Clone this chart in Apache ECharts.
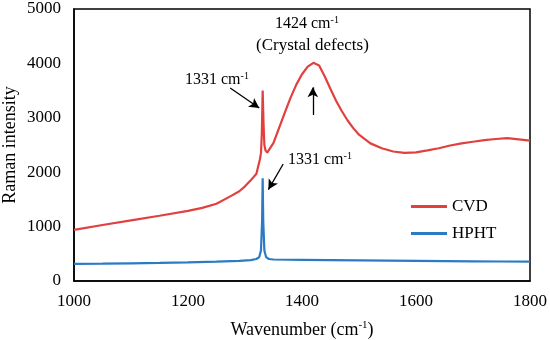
<!DOCTYPE html>
<html>
<head>
<meta charset="utf-8">
<script src="https://cdn.jsdelivr.net/npm/echarts@6/dist/echarts.min.js"></script>
<style>html,body{margin:0;padding:0;background:#fff;}#c{width:550px;height:340px;}</style>
</head>
<body>
<div id="c"></div>
<script>
var cvdWavenumber = [1000,1050,1100,1150,1200,1225,1250,1275,1290,1300,1310,1320,1326,1328,1329.5,1331,1332.5,1334,1336,1339,1342,1350,1360,1370,1380,1390,1400,1410,1420,1430,1440,1450,1460,1470,1480,1490,1500,1520,1540,1560,1580,1600,1620,1640,1660,1680,1700,1720,1740,1760,1780,1800];
var cvdIntensity  = [940,1030,1115,1200,1290,1345,1420,1560,1650,1740,1850,1970,2230,2350,2700,3500,2900,2500,2400,2360,2390,2540,2820,3100,3370,3610,3800,3940,4010,3960,3760,3530,3310,3120,2950,2810,2690,2530,2440,2380,2355,2365,2400,2440,2490,2530,2560,2590,2610,2625,2605,2580];
var hphtWavenumber = [1000,1050,1100,1150,1200,1250,1290,1310,1320,1325,1328,1330,1331,1332,1334,1337,1342,1350,1400,1450,1500,1550,1600,1650,1700,1750,1800];
var hphtIntensity  = [315,318,325,332,342,355,370,385,405,440,560,1100,1890,1100,560,440,405,395,390,385,380,375,370,366,362,358,355];
var seriesNames = ['CVD','HPHT'];
var xTicks = [1000,1200,1400,1600,1800];
var yTicks = [0,1000,2000,3000,4000,5000];

function pairs(xs, ys){ return xs.map(function(x,i){ return [x, ys[i]]; }); }

var FONT = 'Liberation Serif';
var chart = echarts.init(document.getElementById('c'));
var sup = {fontSize: 10, fontFamily: FONT, color: '#000', verticalAlign: 'top', lineHeight: 10};
var supL = {fontSize: 11, fontFamily: FONT, color: '#000', verticalAlign: 'top', lineHeight: 11};
var nrm = {fontSize: 16, fontFamily: FONT, color: '#000', lineHeight: 18};
var nrmL = {fontSize: 18, fontFamily: FONT, color: '#000', lineHeight: 20};
var colors = ['#E2403E', '#2B7BC4'];

chart.setOption({
  animation: false,
  backgroundColor: '#fff',
  grid: {left: 74, right: 20, top: 9, bottom: 59, containLabel: false, outerBoundsMode: 'none',
         show: true, borderColor: '#000', borderWidth: 1.5, backgroundColor: 'transparent'},
  xAxis: {
    type: 'value', min: xTicks[0], max: xTicks[xTicks.length-1], interval: 200,
    name: '{n|Wavenumber (cm}{s|-1}{n|)}', nameLocation: 'middle', nameGap: 39, nameMoveOverlap: false,
    nameTextStyle: {rich: {n: nrmL, s: supL}},
    axisLine: {show: true, lineStyle: {color: '#000', width: 1.5}},
    axisTick: {show: false}, splitLine: {show: false},
    axisLabel: {fontFamily: FONT, fontSize: 17, color: '#000', margin: 12, formatter: function(v){ return String(v); }}
  },
  yAxis: {
    type: 'value', min: yTicks[0], max: yTicks[yTicks.length-1], interval: 1000,
    name: 'Raman intensity', nameLocation: 'middle', nameGap: 55, nameMoveOverlap: false,
    nameTextStyle: {fontFamily: FONT, fontSize: 18, color: '#000'},
    axisLine: {show: true, lineStyle: {color: '#000', width: 1.5}},
    axisTick: {show: false}, splitLine: {show: false},
    axisLabel: {fontFamily: FONT, fontSize: 17, color: '#000', margin: 13, formatter: function(v){ return String(v); }}
  },
  legend: {
    left: 406, top: 193, orient: 'vertical', itemWidth: 36, itemHeight: 3, itemGap: 10,
    icon: 'rect',
    textStyle: {fontFamily: FONT, fontSize: 17, color: '#000'},
    data: seriesNames
  },
  series: [
    {
      name: seriesNames[0], type: 'line', data: pairs(cvdWavenumber, cvdIntensity),
      symbol: 'none', lineStyle: {color: colors[0], width: 2.2}, itemStyle: {color: colors[0]},
      markLine: {
        silent: true, symbol: ['none', 'arrow'], symbolSize: [8, 10],
        label: {show: false},
        lineStyle: {color: '#000', width: 1.3, type: 'solid'},
        emphasis: {disabled: true},
        data: [
          [{coord: [1274, 3548]}, {coord: [1325, 3180]}],
          [{coord: [1419, 3051]}, {coord: [1419, 3560]}],
          [{coord: [1367, 2151]}, {coord: [1341, 1680]}]
        ]
      }
    },
    {
      name: seriesNames[1], type: 'line', data: pairs(hphtWavenumber, hphtIntensity),
      symbol: 'none', lineStyle: {color: colors[1], width: 2.2}, itemStyle: {color: colors[1]}
    }
  ],
  graphic: [
    {type: 'text', left: 185, top: 71, style: {text: '{n|1331 cm}{s|-1}', rich: {n: nrm, s: sup}}},
    {type: 'text', left: 275, top: 15, style: {text: '{n|1424 cm}{s|-1}', rich: {n: nrm, s: sup}}},
    {type: 'text', left: 256, top: 37, style: {text: '(Crystal defects)', fontFamily: FONT, fontSize: 17, fill: '#000'}},
    {type: 'text', left: 288, top: 151, style: {text: '{n|1331 cm}{s|-1}', rich: {n: nrm, s: sup}}}
  ]
});
</script>
</body>
</html>
